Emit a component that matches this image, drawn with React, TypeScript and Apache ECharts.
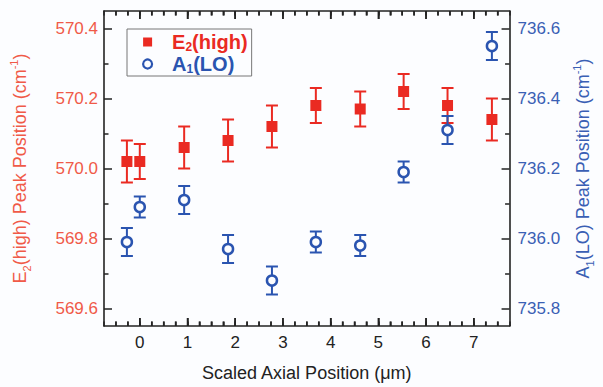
import React, { useEffect, useRef } from "react";
import * as echarts from "echarts";

// ---- data ----
const xPos = [-0.27, 0, 0.93, 1.85, 2.77, 3.69, 4.62, 5.53, 6.45, 7.38];
const e2Values = [570.02, 570.02, 570.06, 570.08, 570.12, 570.18, 570.17, 570.22, 570.18, 570.14];
const e2Err = [0.06, 0.05, 0.06, 0.06, 0.06, 0.05, 0.05, 0.05, 0.05, 0.06];
const a1Values = [735.99, 736.09, 736.11, 735.97, 735.88, 735.99, 735.98, 736.19, 736.31, 736.55];
const a1Err = [0.04, 0.03, 0.04, 0.04, 0.04, 0.03, 0.03, 0.03, 0.04, 0.04];

const xMajorTicks = [0, 1, 2, 3, 4, 5, 6, 7];
const xMinorTicks = [-0.5, -0.25, 0.25, 0.5, 0.75, 1.25, 1.5, 1.75, 2.25, 2.5, 2.75, 3.25, 3.5, 3.75, 4.25, 4.5, 4.75, 5.25, 5.5, 5.75, 6.25, 6.5, 6.75, 7.25, 7.5];
const leftMajorTicks = [569.6, 569.8, 570.0, 570.2, 570.4];
const leftMinorTicks = [569.7, 569.9, 570.1, 570.3];
const rightMajorTicks = [735.8, 736.0, 736.2, 736.4, 736.6];
const rightMinorTicks = [735.9, 736.1, 736.3, 736.5];

const X_MIN = -0.75, X_MAX = 7.75;
const L_MIN = 569.55, L_MAX = 570.45;
const R_MIN = 735.75, R_MAX = 736.65;

const RED = "#ea2a22";
const RED_TEXT = "#f05a48";
const BLUE = "#2a54b0";
const BLUE_TEXT = "#3a5fb4";
const AXIS = "#222";
const BG = "#fcfdff";
const FONT = "'Liberation Sans', Arial, Helvetica, sans-serif";

function tickCfg(values: number[], len: number) {
  return { show: true, inside: true, length: len, customValues: values, lineStyle: { color: AXIS, width: 1.5 } };
}

function errorBarSeries(name: string, values: number[], errs: number[], yAxisIndex: number, color: string) {
  const data = xPos.map((x, i) => [x, values[i] - errs[i], values[i] + errs[i]]);
  return {
    type: "custom",
    name: name + "-err",
    xAxisIndex: 0,
    yAxisIndex,
    encode: { x: 0, y: [1, 2] },
    data,
    renderItem: (params: any, api: any) => {
      const x = api.value(0);
      const lo = api.coord([x, api.value(1)]);
      const hi = api.coord([x, api.value(2)]);
      const w = 6;
      const style = { stroke: color, lineWidth: 2 };
      return {
        type: "group",
        children: [
          { type: "line", shape: { x1: hi[0], y1: hi[1], x2: lo[0], y2: lo[1] }, style },
          { type: "line", shape: { x1: hi[0] - w, y1: hi[1], x2: hi[0] + w, y2: hi[1] }, style },
          { type: "line", shape: { x1: lo[0] - w, y1: lo[1], x2: lo[0] + w, y2: lo[1] }, style },
        ],
      };
    },
  };
}

function xTickSeries(id: string, values: number[], len: number) {
  return {
    type: "custom",
    name: id,
    xAxisIndex: 0,
    yAxisIndex: 0,
    encode: { x: 0, y: [1, 2] },
    data: values.map((v) => [v, L_MIN, L_MAX]),
    renderItem: (params: any, api: any) => {
      const v = api.value(0);
      const b = api.coord([v, api.value(1)]);
      const t = api.coord([v, api.value(2)]);
      return {
        type: "group",
        children: [
          { type: "line", shape: { x1: b[0], y1: b[1], x2: b[0], y2: b[1] - len }, style: { stroke: AXIS, lineWidth: 1.5 } },
          { type: "line", shape: { x1: t[0], y1: t[1], x2: t[0], y2: t[1] + len }, style: { stroke: AXIS, lineWidth: 1.5 } },
        ],
      };
    },
  };
}

export default function App() {
  const ref = useRef<HTMLDivElement>(null);
  useEffect(() => {
    if (!ref.current) return;
    const chart = echarts.init(ref.current, undefined, { renderer: "svg" });
    const nameRich = (color: string) => ({
      n: { fontSize: 18, color, fontFamily: FONT, lineHeight: 24 },
      sub: { fontSize: 11, color, fontFamily: FONT, lineHeight: 24, verticalAlign: "bottom" },
      sup: { fontSize: 11, color, fontFamily: FONT, lineHeight: 11, verticalAlign: "top" },
    });
    const line = () => ({ show: true, onZero: false, lineStyle: { color: AXIS, width: 1.6 } });
    const noLine = () => ({ show: false, onZero: false });
    const option: any = {
      animation: false,
      backgroundColor: BG,
      grid: { left: 100, right: 79, top: 11, bottom: 58 },
      legend: {
        orient: "vertical",
        left: 127,
        top: 29,
        padding: [3, 4, 1, 15],
        itemWidth: 9,
        itemHeight: 9,
        itemGap: 1,
        borderColor: "#777",
        borderWidth: 1,
        data: [
          { name: "E2(high)", icon: "rect", itemStyle: { color: RED } },
          { name: "A1(LO)", icon: "circle", itemStyle: { color: BG, borderColor: BLUE, borderWidth: 2.2 } },
        ],
        formatter: (name: string) =>
          name === "E2(high)" ? "{g|}{r|E}{rs|2}{r|(high)}" : "{g|}{b|A}{bs|1}{b|(LO)}",
        textStyle: {
          fontFamily: FONT,
          rich: {
            g: { width: 15, lineHeight: 22 },
            r: { fontSize: 20, fontWeight: "bold", color: RED, lineHeight: 22, fontFamily: FONT },
            rs: { fontSize: 12, fontWeight: "bold", color: RED, lineHeight: 22, verticalAlign: "bottom", fontFamily: FONT },
            b: { fontSize: 20, fontWeight: "bold", color: BLUE, lineHeight: 22, fontFamily: FONT },
            bs: { fontSize: 12, fontWeight: "bold", color: BLUE, lineHeight: 22, verticalAlign: "bottom", fontFamily: FONT },
          },
        },
      },
      xAxis: [
        {
          type: "value",
          position: "bottom",
          min: X_MIN,
          max: X_MAX,
          splitLine: { show: false },
          axisLine: line(),
          axisTick: tickCfg(xMajorTicks, 8),
          axisLabel: {
            show: true,
            customValues: xMajorTicks,
            margin: 8,
            fontSize: 17,
            color: "#222",
            fontFamily: FONT,
            formatter: (v: number) => String(Math.round(v)),
          },
          name: "Scaled Axial Position (μm)",
          nameLocation: "middle",
          nameGap: 38,
          nameTextStyle: { fontSize: 18, color: "#222", fontFamily: FONT },
        },
        {
          type: "value",
          position: "top",
          min: X_MIN,
          max: X_MAX,
          splitLine: { show: false },
          axisLine: line(),
          axisTick: tickCfg(xMajorTicks, 8),
          axisLabel: { show: false },
        },
        {
          type: "value",
          position: "bottom",
          min: X_MIN,
          max: X_MAX,
          interval: 0.25,
          splitLine: { show: false },
          axisLine: noLine(),
          axisTick: { show: true, inside: true, length: 4.5, lineStyle: { color: AXIS, width: 1.5 } },
          axisLabel: { show: false },
        },
        {
          type: "value",
          position: "top",
          min: X_MIN,
          max: X_MAX,
          interval: 0.25,
          splitLine: { show: false },
          axisLine: noLine(),
          axisTick: { show: true, inside: true, length: 4.5, lineStyle: { color: AXIS, width: 1.5 } },
          axisLabel: { show: false },
        },
      ],
      yAxis: [
        {
          type: "value",
          position: "left",
          min: L_MIN,
          max: L_MAX,
          splitLine: { show: false },
          axisLine: line(),
          axisTick: tickCfg(leftMajorTicks, 8),
          axisLabel: {
            show: true,
            customValues: leftMajorTicks,
            margin: 6,
            fontSize: 17,
            color: RED_TEXT,
            fontFamily: FONT,
            formatter: (v: number) => v.toFixed(1),
          },
          name: "{n|E}{sub|2}{n|(high) Peak Position (cm}{sup|-1}{n|)}",
          nameLocation: "middle",
          nameRotate: 90,
          nameGap: 72,
          nameTextStyle: { rich: nameRich(RED_TEXT) },
        },
        {
          type: "value",
          position: "right",
          min: R_MIN,
          max: R_MAX,
          splitLine: { show: false },
          axisLine: line(),
          axisTick: tickCfg(rightMajorTicks, 8),
          axisLabel: {
            show: true,
            customValues: rightMajorTicks,
            margin: 8,
            fontSize: 17,
            color: BLUE_TEXT,
            fontFamily: FONT,
            formatter: (v: number) => v.toFixed(1),
          },
          name: "{n|A}{sub|1}{n|(LO) Peak Position (cm}{sup|-1}{n|)}",
          nameLocation: "middle",
          nameRotate: 90,
          nameGap: 49,
          nameTextStyle: { rich: nameRich(BLUE_TEXT) },
        },
        {
          type: "value",
          position: "left",
          min: L_MIN,
          max: L_MAX,
          splitLine: { show: false },
          axisLine: noLine(),
          axisTick: tickCfg(leftMinorTicks, 4.5),
          axisLabel: { show: false },
        },
        {
          type: "value",
          position: "right",
          min: R_MIN,
          max: R_MAX,
          splitLine: { show: false },
          axisLine: noLine(),
          axisTick: tickCfg(rightMinorTicks, 4.5),
          axisLabel: { show: false },
        },
      ],
      series: [
        errorBarSeries("E2(high)", e2Values, e2Err, 0, RED),
        errorBarSeries("A1(LO)", a1Values, a1Err, 1, BLUE),
        {
          type: "scatter",
          name: "E2(high)",
          xAxisIndex: 0,
          yAxisIndex: 0,
          symbol: "rect",
          symbolSize: 11,
          itemStyle: { color: RED, opacity: 1 },
          data: xPos.map((x, i) => [x, e2Values[i]]),
        },
        {
          type: "scatter",
          name: "A1(LO)",
          xAxisIndex: 0,
          yAxisIndex: 1,
          symbol: "circle",
          symbolSize: 10,
          itemStyle: { color: BG, borderColor: BLUE, borderWidth: 2.5, opacity: 1 },
          data: xPos.map((x, i) => [x, a1Values[i]]),
        },
        xTickSeries("tick-x-major", xMajorTicks, 8),
        xTickSeries("tick-x-minor", xMinorTicks, 4.5),
      ],
    };
    chart.setOption(option);
    return () => chart.dispose();
  }, []);
  return <div ref={ref} style={{ width: 603, height: 387, position: "absolute", left: 0, top: 0 }} />;
}
